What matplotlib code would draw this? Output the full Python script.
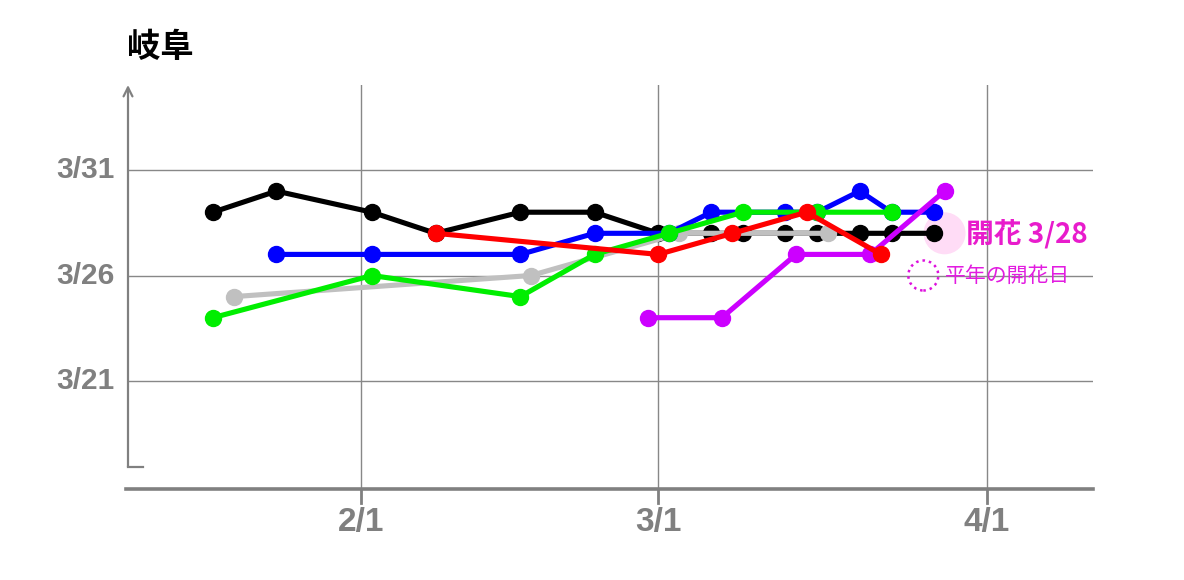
import matplotlib
matplotlib.use("Agg")
import matplotlib.pyplot as plt
from matplotlib.patches import Ellipse
import pandas as pd

plt.rcParams['font.family'] = ['Noto Sans CJK JP', 'DejaVu Sans']

# 発表日 (x) と予想開花日 (y, 3月の日)
black_x = ['1/18', '1/24', '2/2', '2/8', '2/16', '2/23', '3/1', '3/6', '3/9', '3/13', '3/16', '3/20', '3/23', '3/27']
black_y = [29, 30, 29, 28, 29, 29, 28, 28, 28, 28, 28, 28, 28, 28]

gray_x = ['1/20', '2/17', '3/3', '3/17']
gray_y = [25, 26, 28, 28]

blue_x = ['1/24', '2/2', '2/16', '2/23', '3/2', '3/6', '3/13', '3/16', '3/20', '3/23', '3/27']
blue_y = [27, 27, 27, 28, 28, 29, 29, 29, 30, 29, 29]

green_x = ['1/18', '2/2', '2/16', '2/23', '3/2', '3/9', '3/16', '3/23']
green_y = [24, 26, 25, 27, 28, 29, 29, 29]

purple_x = ['2/28', '3/7', '3/14', '3/21', '3/28']
purple_y = [24, 24, 27, 27, 30]

red_x = ['2/8', '3/1', '3/8', '3/15', '3/22']
red_y = [28, 27, 28, 29, 27]

bloom_x, bloom_y = '3/28', 28      # 開花
normal_x, normal_y = '3/26', 26    # 平年の開花日

x_ticks = ['2/1', '3/1', '4/1']
y_ticks = [21, 26, 31]


def doy(s):
    return pd.Timestamp('2023/' + s).dayofyear


series = [
    (black_x, black_y, '#000000'),
    (gray_x, gray_y, '#c0c0c0'),
    (blue_x, blue_y, '#0000ff'),
    (green_x, green_y, '#00ee00'),
    (purple_x, purple_y, '#cc00ff'),
    (red_x, red_y, '#ff0000'),
]

fig = plt.figure(figsize=(11.84, 5.8), dpi=100)
ax = fig.add_axes([128 / 1184, 1 - 489 / 580, 965 / 1184, 404 / 580])
xmin, xmax = 10.0, 101.0
ymin, ymax = 15.88, 35.03
ax.set_xlim(xmin, xmax)
ax.set_ylim(ymin, ymax)
for s in ax.spines.values():
    s.set_visible(False)
ax.set_xticks([])
ax.set_yticks([])

grid_c = '#888888'
for v in y_ticks:
    ax.plot([xmin, xmax], [v, v], color=grid_c, lw=1.0, zorder=1)
    ax.text(xmin - 1.3, v, '3/%d' % v, ha='right', va='center', color='#808080',
            fontsize=21.5, fontweight='bold', family=['Liberation Sans', 'DejaVu Sans'])
for t in x_ticks:
    d = doy(t)
    ax.plot([d, d], [ymin, ymax], color=grid_c, lw=1.0, zorder=1)
    ax.plot([d, d], [ymin, ymin - 0.68], color='#808080', lw=2, clip_on=False)
    ax.text(d, ymin - 1.6, t, ha='center', va='center', color='#808080',
            fontsize=24, fontweight='bold',
            family=['Liberation Sans Narrow', 'Liberation Sans', 'DejaVu Sans'])

# 軸
ax.plot([xmin - 0.2, xmax], [ymin, ymin], color='#808080', lw=2.6, clip_on=False, zorder=2)
ybot = 16.93
ax.annotate('', xy=(xmin, ymax), xytext=(xmin, ybot),
            arrowprops=dict(arrowstyle='->', color='#808080', lw=1.6,
                            mutation_scale=16, shrinkA=0, shrinkB=0),
            annotation_clip=False)
ax.plot([xmin, xmin + 1.45], [ybot, ybot], color='#808080', lw=1.6, clip_on=False)

# 開花マーカー
ax.add_patch(Ellipse((doy(bloom_x), bloom_y), 42 / 10.6, 42 / 21.1,
                     facecolor='#ffdcf6', edgecolor='none', zorder=2))
ax.add_patch(Ellipse((doy(normal_x), normal_y), 30 / 10.6, 30 / 21.1,
                     facecolor='none', edgecolor='#dd11dd', lw=1.8,
                     linestyle=(0, (1, 1.6)), zorder=2))

for i, (xs, ys, c) in enumerate(series):
    ax.plot([doy(s) for s in xs], ys, color=c, lw=3.7, marker='o', markersize=11.5,
            solid_joinstyle='round', solid_capstyle='round', zorder=3 + i)

ax.text(doy(bloom_x) + 2.0, bloom_y, '開花 3/28', ha='left', va='center',
        color='#e81ccc', fontsize=20, fontweight='bold')
ax.text(doy(normal_x) + 2.0, normal_y, '平年の開花日', ha='left', va='center',
        color='#e21ce0', fontsize=15)

fig.text(127 / 1184, 1 - 48 / 580, '岐阜', ha='left', va='center',
         fontsize=24, fontweight='bold', color='black')

fig.savefig('out.png', dpi=100)
